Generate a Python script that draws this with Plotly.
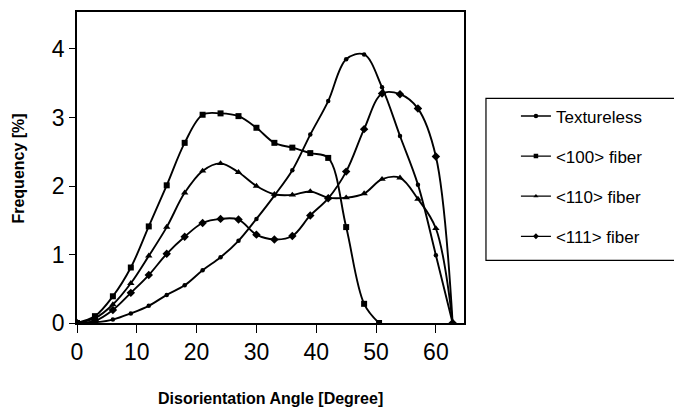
import plotly.graph_objects as go

# ---- data ----
angle = [0, 3, 6, 9, 12, 15, 18, 21, 24, 27, 30, 33, 36, 39, 42, 45, 48, 51, 54, 57, 60, 62.8]
angle_100 = [0, 3, 6, 9, 12, 15, 18, 21, 24, 27, 30, 33, 36, 39, 42, 45, 48, 50.5]

textureless = [0, 0.01, 0.05, 0.14, 0.25, 0.41, 0.55, 0.77, 0.96, 1.20, 1.52, 1.86,
               2.23, 2.75, 3.24, 3.85, 3.92, 3.44, 2.73, 2.02, 0.99, 0]
fiber_100 = [0, 0.10, 0.39, 0.81, 1.41, 2.01, 2.63, 3.04, 3.06, 3.02, 2.85, 2.63,
             2.56, 2.48, 2.41, 1.40, 0.28, 0]
fiber_110 = [0, 0.07, 0.27, 0.58, 0.98, 1.40, 1.90, 2.22, 2.33, 2.20, 2.00, 1.88,
             1.87, 1.92, 1.83, 1.83, 1.89, 2.10, 2.12, 1.81, 1.38, 0]
fiber_111 = [0, 0.03, 0.19, 0.44, 0.70, 1.01, 1.26, 1.46, 1.52, 1.51, 1.29, 1.22,
             1.27, 1.57, 1.82, 2.21, 2.83, 3.35, 3.34, 3.13, 2.43, 0]

x_ticks = [0, 10, 20, 30, 40, 50, 60]
y_ticks = [0, 1, 2, 3, 4]

series = [
    ("Textureless", angle, textureless, "circle", 4.5),
    ("<100> fiber", angle_100, fiber_100, "square", 6),
    ("<110> fiber", angle, fiber_110, "triangle-up", 6.5),
    ("<111> fiber", angle, fiber_111, "diamond", 6.5),
]

FONT = "Arial, Liberation Sans, sans-serif"

fig = go.Figure()
for i, (name, xs, ys, sym, sz) in enumerate(series):
    fig.add_trace(go.Scatter(
        x=xs, y=ys, name=name, mode="lines+markers",
        line=dict(color="black", width=1.9, shape="spline", smoothing=1.0),
        marker=dict(symbol=sym, size=sz, color="black"),
        showlegend=False,
    ))
# legend entries (smaller symbols, as in the reference legend)
for i, (name, xs, ys, sym, sz) in enumerate(series):
    fig.add_trace(go.Scatter(
        x=[None], y=[None], name=name, mode="lines+markers",
        line=dict(color="black", width=1.3),
        marker=dict(symbol=sym, size=4.5, color="black"),
        legendgroup=f"g{i}", showlegend=True,
    ))

L, R, T, B = 76.5, 464, 10, 323
W, H = 674, 410
pw, ph = R - L, B - T

def px_x(p):
    return (p - L) / pw

def px_y(p):
    return (B - p) / ph

fig.update_layout(
    width=W, height=H,
    margin=dict(l=L, r=W - R, t=T, b=H - B),
    paper_bgcolor="white", plot_bgcolor="white",
    font=dict(family=FONT, color="black"),
    showlegend=True,
    legend=dict(
        x=px_x(516), y=px_y(97), xanchor="left", yanchor="top",
        font=dict(size=17, family=FONT, color="black"),
        bgcolor="rgba(0,0,0,0)", borderwidth=0,
        tracegroupgap=15, itemwidth=30,
    ),
    xaxis=dict(
        range=[0, 64.7], tickvals=x_ticks, ticks="outside", ticklen=8,
        tickwidth=1, tickcolor="black", showgrid=False, zeroline=False,
        showline=True, linecolor="black", linewidth=1.5, mirror=True,
        tickfont=dict(size=23, family=FONT, color="black"),
    ),
    yaxis=dict(
        range=[0, 4.54], tickvals=y_ticks, ticks="outside", ticklen=6,
        tickwidth=1, tickcolor="black", showgrid=False, zeroline=False,
        showline=True, linecolor="black", linewidth=1.5, mirror=True,
        tickfont=dict(size=23, family=FONT, color="black"),
    ),
    shapes=[dict(
        type="rect", xref="paper", yref="paper",
        x0=px_x(486), x1=px_x(690), y0=px_y(260), y1=px_y(97),
        line=dict(color="black", width=1.2), fillcolor="rgba(0,0,0,0)",
    )],
    annotations=[
        dict(text="<b>Disorientation Angle [Degree]</b>", xref="paper", yref="paper",
             x=0.5, y=px_y(399), xanchor="center", yanchor="middle",
             showarrow=False, font=dict(size=16, family=FONT, color="black")),
        dict(text="<b>Frequency [%]</b>", xref="paper", yref="paper",
             x=px_x(18), y=px_y(168), xanchor="center", yanchor="middle",
             textangle=-90, showarrow=False,
             font=dict(size=16, family=FONT, color="black")),
    ],
)

fig.write_html(
    "out.html",
    config={"displayModeBar": False},
    post_script="document.body.style.margin='0';document.body.style.padding='0';",
)
